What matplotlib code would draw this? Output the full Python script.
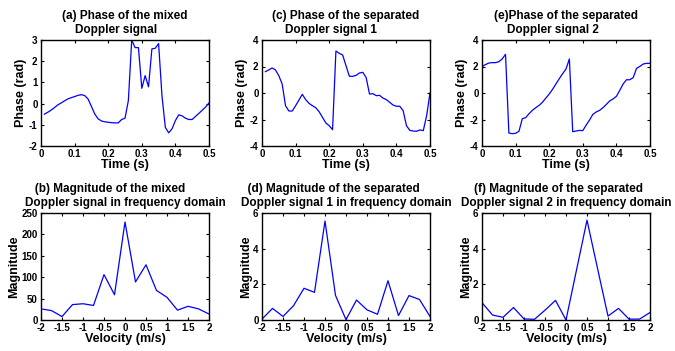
import numpy as np
import matplotlib
matplotlib.use("Agg")
import matplotlib.pyplot as plt

plt.rcParams['font.family'] = ['Liberation Sans', 'DejaVu Sans']
plt.rcParams['font.weight'] = 'bold'
plt.rcParams['axes.unicode_minus'] = False

# ---------------- data ----------------
time_ac = [round(0.01 * i, 2) for i in range(1, 51)]
time_e = [round(0.01 * i, 2) for i in range(0, 51)]

phase_mixed = [-0.50, -0.41, -0.31, -0.19, -0.06, 0.03, 0.13, 0.22, 0.28, 0.33,
               0.39, 0.42, 0.38, 0.22, -0.13, -0.49, -0.72, -0.82, -0.86, -0.88,
               -0.90, -0.91, -0.91, -0.75, -0.69, 0.14, 3.00, 2.64, 2.64, 0.72,
               1.32, 0.79, 2.58, 2.61, 2.83, 0.38, -1.12, -1.38, -1.19, -0.80,
               -0.53, -0.58, -0.69, -0.75, -0.75, -0.60, -0.46, -0.31, -0.16, 0.03]

phase_sep1 = [1.61, 1.74, 1.89, 1.74, 1.31, 0.68, -0.96, -1.36, -1.36, -0.96,
              -0.53, -0.10, -0.50, -0.78, -0.96, -1.11, -1.41, -1.84, -2.26, -2.47,
              -2.77, 3.17, 2.99, 2.87, 2.06, 1.26, 1.26, 1.33, 1.51, 1.56,
              1.16, -0.08, -0.05, -0.20, -0.18, -0.38, -0.50, -0.70, -0.91, -1.00,
              -1.00, -1.33, -2.47, -2.82, -2.87, -2.89, -2.79, -2.84, -1.71, 0.00]

phase_sep2 = [2.00, 2.14, 2.26, 2.29, 2.29, 2.36, 2.57, 2.92, -3.02, -3.07,
              -3.04, -2.89, -1.94, -1.86, -1.56, -1.31, -1.11, -0.93, -0.70, -0.38,
              -0.08, 0.28, 0.68, 1.08, 1.46, 1.81, 2.57, -2.92, -2.87, -2.82,
              -2.84, -2.42, -2.04, -1.61, -1.43, -1.31, -1.11, -0.86, -0.60, -0.45,
              -0.25, 0.20, 0.68, 1.00, 1.00, 1.16, 1.86, 2.01, 2.19, 2.24, 2.24]

velocity = [-2.0, -1.75, -1.5, -1.25, -1.0, -0.75, -0.5, -0.25, 0.0,
            0.25, 0.5, 0.75, 1.0, 1.25, 1.5, 1.75, 2.0]

mag_mixed = [26, 22, 8, 36, 38, 34, 106, 59, 229, 89, 129, 69, 53, 23, 32, 26, 14]
mag_sep1 = [0.05, 0.65, 0.20, 0.80, 1.78, 1.55, 5.55, 1.38, 0.02, 1.12, 0.57,
            0.32, 2.20, 0.25, 1.37, 1.15, 0.20]
mag_sep2 = [0.97, 0.28, 0.15, 0.70, 0.06, 0.04, 0.55, 1.10, 0.00, 2.80, 5.60,
            2.90, 0.22, 0.65, 0.05, 0.05, 0.42]

time_ticks = [0, 0.1, 0.2, 0.3, 0.4, 0.5]
time_ticklabels = ['0', '0.1', '0.2', '0.3', '0.4', '0.5']
vel_ticks = [-2, -1.5, -1, -0.5, 0, 0.5, 1, 1.5, 2]
vel_ticklabels = ['-2', '-1.5', '-1', '-0.5', '0', '0.5', '1', '1.5', '2']

titles = {
    'a': "(a) Phase of the mixed\n    Doppler signal",
    'c': "(c) Phase of the separated\n    Doppler signal 1",
    'e': "(e)Phase of the separated\n    Doppler signal 2",
    'b': "   (b) Magnitude of the mixed\nDoppler signal in frequency domain",
    'd': "  (d) Magnitude of the separated\nDoppler signal 1 in frequency domain",
    'f': "    (f) Magnitude of the separated\nDoppler signal 2 in frequency domain",
}

# ---------------- figure ----------------
W, H = 675, 351
fig = plt.figure(figsize=(W / 100, H / 100), dpi=100)

def make_ax(x0, x1, ytop, ybot):
    return fig.add_axes([x0 / W, 1 - ybot / H, (x1 - x0) / W, (ybot - ytop) / H])

lefts = [41, 262, 482]
width = 168
top_axes = [make_ax(l, l + width, 40, 146) for l in lefts]
bot_axes = [make_ax(l, l + width, 213, 320) for l in lefts]

def style(ax):
    ax.tick_params(direction='in', top=True, right=True, length=2.5, width=0.8,
                   labelsize=7)
    ax.tick_params(axis='y', pad=2.5)
    ax.tick_params(axis='x', pad=2)
    for lab in ax.get_xticklabels() + ax.get_yticklabels():
        lab.set_fontweight('bold')
    for s in ax.spines.values():
        s.set_linewidth(1.0)

top_data = [(time_ac, phase_mixed, [-2, -1, 0, 1, 2, 3], (-2, 3), titles['a']),
            (time_ac, phase_sep1, [-4, -2, 0, 2, 4], (-4, 4), titles['c']),
            (time_e, phase_sep2, [-4, -2, 0, 2, 4], (-4, 4), titles['e'])]
for ax, (tx, ph, yt, yl, ttl) in zip(top_axes, top_data):
    ax.plot(tx, ph, color='#0000ff', lw=0.9)
    ax.set_xlim(0, 0.5)
    ax.set_ylim(*yl)
    ax.set_xticks(time_ticks)
    ax.set_xticklabels(time_ticklabels)
    ax.set_yticks(yt)
    ax.set_yticklabels([str(v) for v in yt])
    ax.set_xlabel('Time (s)', fontsize=9, fontweight='bold', labelpad=0.5)
    ax.set_ylabel('Phase (rad)', fontsize=9, fontweight='bold', labelpad=1)
    ax.set_title(ttl, fontsize=8.5, fontweight='bold', ma='left', pad=5,
                 linespacing=1.25)
    style(ax)

bot_data = [(mag_mixed, [0, 50, 100, 150, 200, 250], (0, 250), titles['b']),
            (mag_sep1, [0, 2, 4, 6], (0, 6), titles['d']),
            (mag_sep2, [0, 2, 4, 6], (0, 6), titles['f'])]
for ax, (mg, yt, yl, ttl) in zip(bot_axes, bot_data):
    ax.plot(velocity, mg, color='#0000ff', lw=0.9)
    ax.set_xlim(-2, 2)
    ax.set_ylim(*yl)
    ax.set_xticks(vel_ticks)
    ax.set_xticklabels(vel_ticklabels)
    ax.set_yticks(yt)
    ax.set_yticklabels([str(v) for v in yt])
    ax.set_xlabel('Velocity (m/s)', fontsize=9, fontweight='bold', labelpad=0.5)
    ax.set_ylabel('Magnitude', fontsize=9, fontweight='bold', labelpad=1)
    ax.set_title(ttl, fontsize=8.5, fontweight='bold', ma='left', pad=5,
                 linespacing=1.25)
    style(ax)

fig.savefig('out.png', dpi=100)
